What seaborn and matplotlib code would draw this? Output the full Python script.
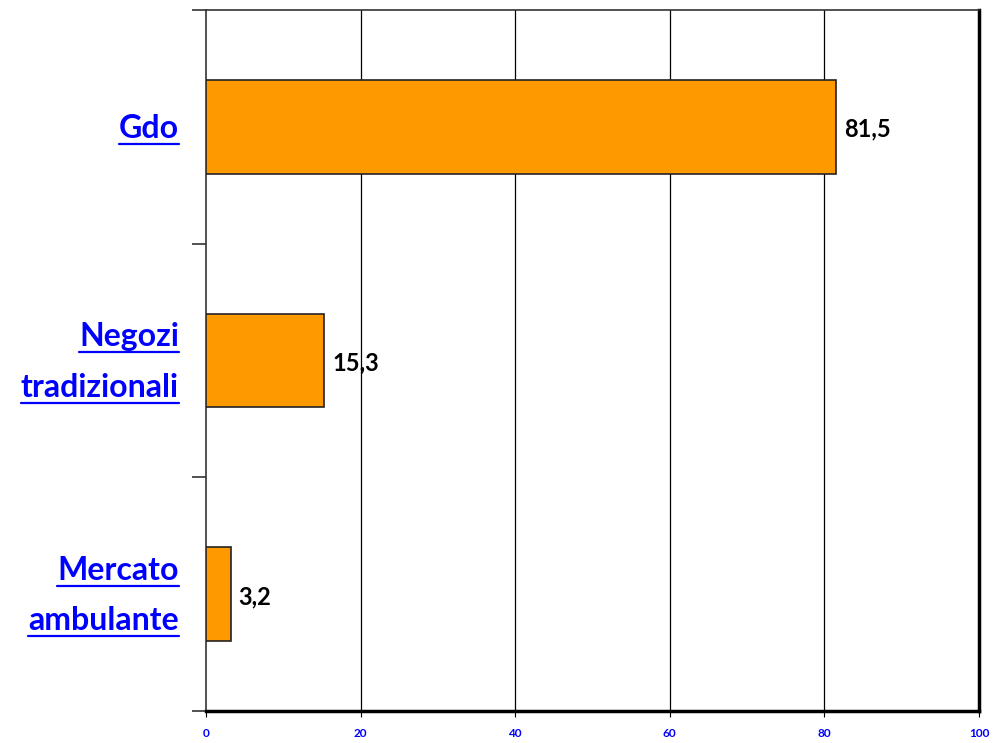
import matplotlib
matplotlib.use("Agg")
import matplotlib.pyplot as plt
import matplotlib.transforms as mtransforms
from matplotlib.lines import Line2D
import seaborn as sns
import pandas as pd

categories = ["Gdo", "Negozi\ntradizionali", "Mercato\nambulante"]
values = [81.5, 15.3, 3.2]
value_labels = ["81,5", "15,3", "3,2"]
xticks = [0, 20, 40, 60, 80, 100]

sns.set_theme(style="white")
plt.rcParams['font.family'] = ['Lato', 'DejaVu Sans']

df = pd.DataFrame({"cat": categories, "val": values})

fig = plt.figure(figsize=(10.08, 7.43), dpi=100)
ax = fig.add_axes([206/1008, 1 - 711/743, (979-206)/1008, (711-10)/743])

sns.barplot(data=df, x="val", y="cat", orient="h", color="#FF9900",
            edgecolor="#222222", linewidth=1.2, width=0.4, saturation=1, ax=ax, zorder=3)

ax.set_xlim(0, 100)
ax.set_ylim(2.5, -0.5)
ax.set_xlabel("")
ax.set_ylabel("")

# grid
for xv in xticks[1:-1]:
    ax.axvline(xv, color="black", lw=0.9, zorder=1)

ax.set_xticks(xticks)
ax.set_xticklabels([str(v) for v in xticks], color="#0000FF", fontweight="bold", fontsize=8.5)
ax.tick_params(axis="x", length=4, width=0.8, color="black", direction="out", pad=8.5, bottom=True)

# category boundary ticks on y
ax.set_yticks([-0.5, 0.5, 1.5, 2.5])
ax.set_yticklabels([])
ax.tick_params(axis="y", length=10, width=1.2, color="#333333", direction="out", left=True)

for side in ["left", "top"]:
    ax.spines[side].set_color("#333333")
    ax.spines[side].set_linewidth(1.2)
for side in ["right", "bottom"]:
    ax.spines[side].set_color("black")
    ax.spines[side].set_linewidth(2.5)

# value labels
for i, (v, lab) in enumerate(zip(values, value_labels)):
    ax.text(v + 1, i + 0.01, lab, ha="left", va="center", fontsize=17, fontweight="bold",
            color="black", zorder=4)

# category labels (underlined, blue)
trans = mtransforms.blended_transform_factory(ax.transAxes, ax.transData)
texts = []
for i, cat in enumerate(categories):
    lines = cat.split("\n")
    offs = [0.048] if len(lines) == 1 else [-0.06, 0.155]
    for ln, off in zip(lines, offs):
        t = ax.text(-0.035, i + off, ln, transform=trans, ha="right", va="baseline",
                    fontsize=23, fontweight="bold", color="#0000FF", clip_on=False)
        texts.append(t)

fig.canvas.draw()
renderer = fig.canvas.get_renderer()
inv = fig.transFigure.inverted()
for t in texts:
    bb = t.get_window_extent(renderer)
    _, ybase = t.get_transform().transform(t.get_position())
    yb = ybase - 6
    fx0, fy = inv.transform((bb.x0, yb))
    fx1, _ = inv.transform((bb.x1, yb))
    fig.add_artist(Line2D([fx0, fx1], [fy, fy], transform=fig.transFigure,
                          color="#0000FF", lw=1.6))

fig.savefig("out.png", dpi=100)
